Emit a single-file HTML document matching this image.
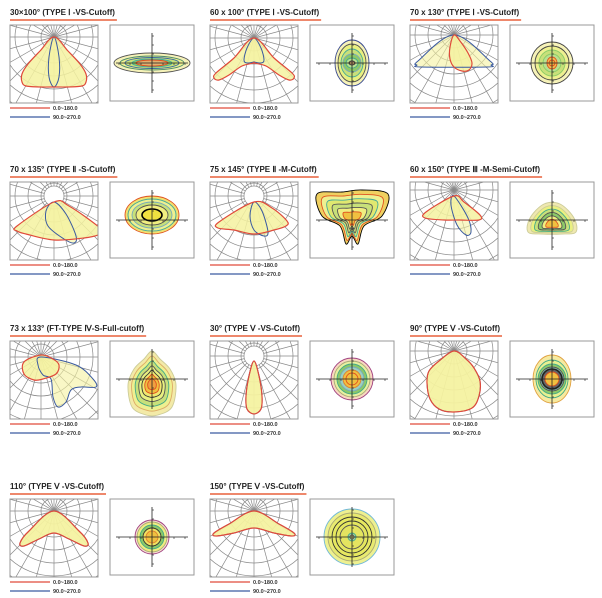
<!DOCTYPE html>
<html><head><meta charset="utf-8"><style>
html,body{margin:0;padding:0;background:#fff;width:602px;height:598px;overflow:hidden}
svg{display:block}
text{font-family:"Liberation Sans",sans-serif}
</style></head><body>
<svg id="s" width="602" height="598" xmlns="http://www.w3.org/2000/svg"></svg>
<script>
var S=document.getElementById('s'),h='';
function spline(pts){var n=pts.length,d='M'+pts[0][0]+','+pts[0][1];
for(var i=0;i<n;i++){var p0=pts[(i-1+n)%n],p1=pts[i],p2=pts[(i+1)%n],p3=pts[(i+2)%n];
d+='C'+(p1[0]+(p2[0]-p0[0])/6).toFixed(1)+','+(p1[1]+(p2[1]-p0[1])/6).toFixed(1)+' '+(p2[0]-(p3[0]-p1[0])/6).toFixed(1)+','+(p2[1]-(p3[1]-p1[1])/6).toFixed(1)+' '+p2[0].toFixed(1)+','+p2[1].toFixed(1);}
return d+'Z';}
function mir(a){var r=a.slice();for(var i=a.length-1;i>0;i--){r.push([-a[i][0],a[i][1]]);}return r;}
var P=[
{t:'30×100°  (TYPE Ⅰ -VS-Cutoff)',c:[44,12],red:mir([[0,0],[-14,14],[-26,27],[-32,37],[-32,45],[-28,49],[-14,50],[0,50]]),blue:[[0,0],[-5,20],[-5,40],[0,50],[5,40],[5,20]],
 R:{type:'e',L:[[38,10,'#f6f2b8','#555'],[32,7,'#eef090','#4a8a6a'],[27,5.5,'#c8e07a','#3a6aa0'],[20,4,'#8cc868','#4a9'],[16,3,'#e0b070','#e05020']]}},
{t:'60 x 100°  (TYPE Ⅰ -VS-Cutoff)',c:[44,13],red:mir([[0,0],[-20,20],[-38,35],[-40,40],[-35,42],[-25,37],[-12,28],[0,25]]),blue:mir([[0,0],[-7,10],[-10,22],[-7,25],[0,24]]),
 R:{type:'e',L:[[17,23,'#f6f2b8','#3a4a90'],[14,19,'#e8f080','#555'],[11,14,'#c8e07a','#4a9'],[9,9,'#8cc868','#7ab'],[6,5,'#b8e090','#4a8'],[3,2,'#e0b070','#333']]}},
{t:'70 x 130°  (TYPE Ⅰ -VS-Cutoff)',c:[44,10],red:[[0,0],[-4,12],[-4,24],[0,32],[8,36],[15,35],[18,28],[14,18],[6,6]],blue:[[0,0],[-36,26],[-37,30],[-33,32],[33,32],[37,30],[36,26]],
 R:{type:'e',L:[[21,21,'#f6f2b8','#444'],[17,17,'#eef090','#444'],[13,13,'#c8e07a','#8c6'],[9,9,'#b8e090','#8c6'],[5,6,'#f0c050','#e05020'],[3,3,'#f0b040','#e05020']]}},
{t:'70 x 135°  (TYPE Ⅱ -S-Cutoff)',c:[44,14],hole:1,red:[[0,6],[-37,30],[-37,35],[-28,38],[0,44],[30,42],[46,38],[46,32],[15,10]],blue:[[0,6],[-8,15],[-6,30],[10,43],[20,47],[22,40],[12,18]],
 R:{type:'e',oy:-5,L:[[27,19,'#f0e070','#e05020'],[24,16,'#eef090','#4a9'],[20,13,'#c8e07a','#7ab'],[16,10,'#f0ee80','#555'],[10,6,'#f0e040','#000']]}},
{t:'75 x 145°  (TYPE Ⅱ -M-Cutoff)',c:[44,14],hole:1,red:[[0,6],[-35,26],[-36,32],[-20,34],[0,38],[20,34],[32,30],[33,25],[18,12]],blue:[[0,6],[-4,20],[0,34],[10,40],[14,36],[8,15]],
 R:{type:'p',pts:[[-35,-22],[-10,-24],[10,-26],[36,-22],[30,0],[12,10],[6,28],[0,20],[-6,28],[-12,10],[-30,0]],sc:[1,0.85,0.7,0.55,0.4,0.25],col:['#f0d060','#eef090','#e0e870','#c8e07a','#f0ee80','#f0c040'],st:['#000','#e05020','#4a9','#555','#555','#e05020'],oy:-4}},
{t:'60 x 150°  (TYPE Ⅲ -M-Semi-Cutoff)',c:[44,8],red:[[0,6],[-28,22],[-29,28],[-10,30],[5,30],[25,30],[26,25],[10,12]],blue:[[0,6],[-3,15],[3,35],[12,45],[17,42],[14,28]],
 R:{type:'p',pts:[[-8,-18],[8,-18],[22,-4],[24,10],[10,12],[-10,12],[-24,10],[-22,-4]],sc:[1,0.85,0.7,0.55,0.4,0.25],col:['#efe8b0','#eaf080','#c8e07a','#8cc868','#f0ee80','#f0c040'],st:['#cc9','#cc9','#4a8','#555','#555','#e05020'],oy:2}},
{t:'73 x 133°  (FT-TYPE Ⅳ-S-Full-cutoff)',c:[31,16],red:[[-17,5],[-17,17],[-7,23],[2,22],[15,17],[18,8],[12,2],[0,-2]],blue:[[0,0],[35,8],[52,22],[55,30],[40,30],[30,33],[25,45],[17,50],[12,40],[10,22],[2,18],[-3,8]],
 R:{type:'p',pts:[[0,-30],[8,-22],[18,-12],[24,4],[20,26],[6,34],[-6,34],[-20,26],[-24,4],[-18,-12],[-8,-22]],sc:[1,0.85,0.7,0.55,0.42,0.3,0.18],col:['#f3eaa8','#eef090','#c8e07a','#e8f080','#f0e870','#f0c040','#f0a040'],st:['#cc9','#da6','#4a8','#555','#333','#e05020','#e05020'],oy:2}},
{t:'30°  (TYPE Ⅴ -VS-Cutoff)',c:[44,15],hole:1,red:[[0,5],[-5,20],[-8,40],[-7,53],[0,58],[7,53],[8,40],[5,20]],blue:[[0,5],[-5,20],[-8,40],[-7,53],[0,58],[7,53],[8,40],[5,20]],
 R:{type:'e',L:[[21,21,'#f8d8c0','#a04080'],[18,18,'#e8f0a0','#aa7'],[15,15,'#8cc868','#4a8'],[12,12,'#9ad0c0','#7ab'],[9,9,'#f0c040','#e08030'],[6,6,'#f0c040','#e05020']]}},
{t:'90°  (TYPE Ⅴ -VS-Cutoff)',c:[44,10],red:[[0,0],[-15,10],[-25,20],[-27,32],[-24,48],[-15,58],[0,61],[18,57],[25,45],[26,30],[20,17],[12,8]],blue:[[0,0],[-15,10],[-25,20],[-27,32],[-24,48],[-15,58],[0,61],[18,57],[25,45],[26,30],[20,17],[12,8]],
 R:{type:'e',L:[[19,24,'#f6eaa0','#e0a040'],[16,19,'#e8f090','#4a8'],[14,15,'#8cc868','#4a8'],[12,12,'#80c0b0','#555'],[10,10,'#666','#222'],[7,7,'#f0c040','#e05020']]}},
{t:'110°  (TYPE Ⅴ -VS-Cutoff)',c:[44,12],red:[[0,0],[-25,20],[-34,32],[-30,35],[-15,28],[0,22],[15,28],[30,35],[34,32],[25,20]],blue:[[0,0],[-25,20],[-34,32],[-30,35],[-15,28],[0,22],[15,28],[30,35],[34,32],[25,20]],
 R:{type:'e',L:[[17,17,'#f8e0d0','#a04080'],[15,15,'#f0ee80','#aa7'],[12,12,'#8cc868','#4a8'],[9,9,'#f0e060','#333'],[6,6,'#f0c040','#e08030']]}},
{t:'150°  (TYPE Ⅴ -VS-Cutoff)',c:[44,12],red:[[0,0],[-25,13],[-40,22],[-38,25],[-20,22],[0,17],[20,22],[38,25],[40,22],[25,13]],blue:[[0,0],[-25,13],[-40,22],[-38,25],[-20,22],[0,17],[20,22],[38,25],[40,22],[25,13]],
 R:{type:'e',L:[[28,28,'#eef090','#70b8d8'],[24,24,'#e8ea70','#aa7'],[20,20,'#e6e860','#333'],[16,16,'#e4e660','#333'],[12,12,'#e4e460','#555'],[4,4,'#a0d0a0','#4a8'],[2,2,'#f0ee80','#555']]}}
];
var rows=[0,157,316,474],cols=[10,210,410];
P.forEach(function(p,i){
 var X=cols[i%3],Y=rows[Math.floor(i/3)];
 h+='<text x="'+X+'" y="'+(Y+15)+'" font-size="8" font-weight="bold" fill="#222" id="t'+i+'">'+p.t+'</text>';
 h+='<line id="u'+i+'" x1="'+X+'" y1="'+(Y+20)+'" x2="'+(X+140)+'" y2="'+(Y+20)+'" stroke="#e8603c" stroke-width="1.6"/>';
 var bx=X,by=Y+25,bw=88,bh=78;
 h+='<clipPath id="c'+i+'"><rect x="'+bx+'" y="'+by+'" width="'+bw+'" height="'+bh+'"/></clipPath>';
 h+='<g clip-path="url(#c'+i+')">';
 var cx=bx+p.c[0],cy=by+p.c[1];
 for(var r=13;r<130;r+=13)h+='<circle cx="'+cx+'" cy="'+cy+'" r="'+r+'" fill="none" stroke="#888" stroke-width="0.7"/>';
 for(var a=0;a<360;a+=15){var rad=a*Math.PI/180;
  h+='<line x1="'+cx+'" y1="'+cy+'" x2="'+(cx+130*Math.cos(rad)).toFixed(1)+'" y2="'+(cy+130*Math.sin(rad)).toFixed(1)+'" stroke="#888" stroke-width="0.7"/>';}
 if(p.hole)h+='<circle cx="'+cx+'" cy="'+cy+'" r="10" fill="#fff" stroke="#888" stroke-width="0.7"/>';
 function tr(pts){return pts.map(function(q){return[cx+q[0],cy+q[1]];});}
 h+='<path d="'+spline(tr(p.red))+'" fill="#f5f2a0" fill-opacity="0.85" stroke="none"/>';
 h+='<path d="'+spline(tr(p.blue))+'" fill="#f5f2a0" fill-opacity="0.6" stroke="#3a5aa0" stroke-width="1"/>';
 h+='<path d="'+spline(tr(p.red))+'" fill="none" stroke="#e04a3a" stroke-width="1.2"/>';
 h+='</g><rect x="'+bx+'" y="'+by+'" width="'+bw+'" height="'+bh+'" fill="none" stroke="#999" stroke-width="1"/>';
 var rx=X+100,ry=Y+25,rw=84,rh=76;
 h+='<rect x="'+rx+'" y="'+ry+'" width="'+rw+'" height="'+rh+'" fill="#fff" stroke="#999" stroke-width="1"/>';
 var R=p.R,ccx=rx+42,ccy=ry+38+(R.oy||0);
 if(R.type=='e'){R.L.forEach(function(l){h+='<ellipse cx="'+ccx+'" cy="'+ccy+'" rx="'+l[0]+'" ry="'+l[1]+'" fill="'+l[2]+'" stroke="'+l[3]+'" stroke-width="'+(l[3]=='#000'||l[3]=='#222'?1.6:0.9)+'"/>';});}
 else{R.sc.forEach(function(s,k){h+='<path d="'+spline(R.pts.map(function(q){return[ccx+q[0]*s,ccy+q[1]*s+(1-s)*3];}))+'" fill="'+R.col[k]+'" stroke="'+R.st[k]+'" stroke-width="0.9"/>';});}
 var ay=ry+38;
 h+='<line x1="'+(rx+6)+'" y1="'+ay+'" x2="'+(rx+78)+'" y2="'+ay+'" stroke="#222" stroke-width="0.8"/>';
 h+='<line x1="'+ccx+'" y1="'+(ry+8)+'" x2="'+ccx+'" y2="'+(ry+68)+'" stroke="#222" stroke-width="0.8"/>';
 for(var k=-3;k<=3;k++){if(!k)continue;h+='<line x1="'+(ccx+k*11)+'" y1="'+ay+'" x2="'+(ccx+k*11)+'" y2="'+(ay+2)+'" stroke="#222" stroke-width="0.6"/>';
  h+='<line x1="'+ccx+'" y1="'+(ay+k*9)+'" x2="'+(ccx+2)+'" y2="'+(ay+k*9)+'" stroke="#222" stroke-width="0.6"/>';}
 h+='<line x1="'+X+'" y1="'+(Y+108)+'" x2="'+(X+40)+'" y2="'+(Y+108)+'" stroke="#e04a3a" stroke-width="1.2"/>';
 h+='<text x="'+(X+43)+'" y="'+(Y+110)+'" font-size="5.5" font-weight="bold" fill="#333">0.0~180.0</text>';
 h+='<line x1="'+X+'" y1="'+(Y+117)+'" x2="'+(X+40)+'" y2="'+(Y+117)+'" stroke="#3a5aa0" stroke-width="1.2"/>';
 h+='<text x="'+(X+43)+'" y="'+(Y+119)+'" font-size="5.5" font-weight="bold" fill="#333">90.0~270.0</text>';
});
S.innerHTML=h;
P.forEach(function(p,i){var t=document.getElementById('t'+i),u=document.getElementById('u'+i);
 try{var w=t.getComputedTextLength();u.setAttribute('x2',+u.getAttribute('x1')+w+2);}catch(e){}});
</script>
</body></html>
